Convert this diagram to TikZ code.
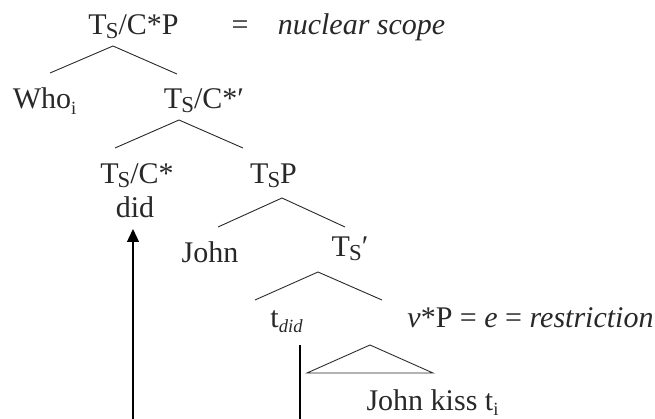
\documentclass[tikz,border=0pt]{standalone}
\usepackage{fontspec}
\usepackage{graphicx}
\setmainfont{Liberation Serif}
\usetikzlibrary{arrows.meta}
\definecolor{ink}{RGB}{40,40,40}
\newcommand{\TSx}{T\kern-0.03em\raisebox{-0.12em}{\scalebox{0.76}{S}}}
\newcommand{\subx}[1]{\raisebox{-0.18em}{\scalebox{0.62}{#1}}}
\begin{document}
\begin{tikzpicture}[x=1pt,y=-1pt,
  lab/.style={anchor=base,inner sep=0pt,text=ink,font=\fontsize{30}{34}\selectfont},
  branch/.style={draw=ink,line width=0.9pt},
  mover/.style={draw=black,line width=1.3pt}]
\useasboundingbox (0,0) rectangle (655,419);
% labels
\node[lab] (top) at (133.5,35) {\TSx/C*P};
\node[lab] (eq) at (240,35) {=};
\node[lab] (ns) at (361.5,35) {\itshape nuclear scope};
\node[lab] (who) at (44.5,109) {Who\subx{i}};
\node[lab] (tcbar) at (204,109) {\TSx/C*′};
\node[lab] (tc) at (137,184) {\TSx/C*};
\node[lab] (did) at (135,218) {did};
\node[lab] (tsp) at (273.5,184) {\TSx P};
\node[lab] (john) at (210,263) {John};
\node[lab] (tsbar) at (350,257) {\TSx′};
\node[lab] (tdid) at (286.5,327) {t\subx{\itshape did}};
\node[lab] (vp) at (530.5,327) {\textit{v}*P = \textit{e} = \textit{restriction}};
\node[lab] (jk) at (432.5,410) {John kiss t\subx{i}};
% branch points
\coordinate (a1) at (113,46);  \coordinate (l1) at (50,73);   \coordinate (r1) at (177,74);
\coordinate (a2) at (179,120); \coordinate (l2) at (115,148); \coordinate (r2) at (243,148);
\coordinate (a3) at (282,198); \coordinate (l3) at (218,227); \coordinate (r3) at (345,227);
\coordinate (a4) at (318,272); \coordinate (l4) at (255,300); \coordinate (r4) at (382,300);
\coordinate (ta) at (370,345); \coordinate (tl) at (307,373); \coordinate (tr) at (433,373);
\draw[branch] (l1) -- (a1) -- (r1);
\draw[branch] (l2) -- (a2) -- (r2);
\draw[branch] (l3) -- (a3) -- (r3);
\draw[branch] (l4) -- (a4) -- (r4);
\draw[branch] (ta) -- (tl) -- (tr) -- cycle;
% movement lines
\coordinate (tdidfoot) at (300,345);
\coordinate (tdidend) at (300,419);
\coordinate (arrowfoot) at (133,419);
\coordinate (arrowtip) at (133,229);
\draw[mover] (tdidfoot) -- (tdidend);
\draw[mover,-{Triangle[width=12pt,length=13pt]}] (arrowfoot) -- (arrowtip);
\end{tikzpicture}
\end{document}
